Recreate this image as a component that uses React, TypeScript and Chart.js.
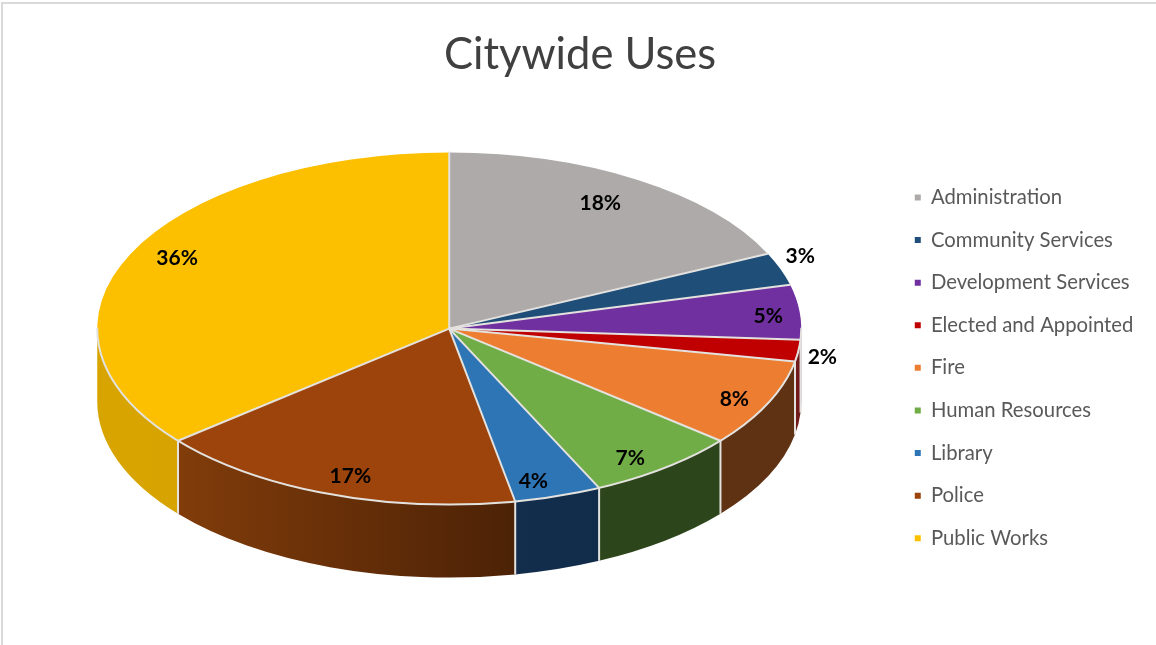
import React, { useEffect, useRef } from "react";
import { Chart, registerables } from "chart.js";

Chart.register(...registerables);

const TITLE = "Citywide Uses";
const categories = [
  "Administration",
  "Community Services",
  "Development Services",
  "Elected and Appointed",
  "Fire",
  "Human Resources",
  "Library",
  "Police",
  "Public Works",
];
const shares = [18, 3, 5, 2, 8, 7, 4, 17, 36];
const topColors = ["#aeaaaa", "#1f4e79", "#7030a0", "#c00000", "#ed7d31", "#70ad47", "#2e75b6", "#9c440c", "#fcc000"];
const wallLeftColors = ["#6f6c6c", "#122e4c", "#3f1b5c", "#701a1a", "#5f3214", "#2d451b", "#132e4c", "#813c0a", "#d8a500"];
const wallRightColors = ["#6f6c6c", "#122e4c", "#3f1b5c", "#701a1a", "#5f3214", "#2d451b", "#112c4a", "#4c2206", "#d6a300"];
// Label anchors as fractions of the disc's horizontal and vertical radii.
const labelAnchorsX = [0.429, 0.997, 0.906, 1.06, 0.81, 0.514, 0.239, -0.281, -0.773];
const labelAnchorsY = [-0.713, -0.414, -0.069, 0.161, 0.402, 0.736, 0.868, 0.839, -0.402];

const DISC_RX = 352;
const DISC_RY = 176;
const DISC_DEPTH = 73;
const SEAM = "#e4e2de";
const TITLE_SHIFT = 5.3;
const LEGEND_DROP = 165;

// Tilts the pie into a flattened disc and extrudes a side wall from its arc elements.
const tiltedDisc = {
  id: "tiltedDisc",
  afterLayout(chart: any) {
    chart.titleBlock.left += TITLE_SHIFT;
    chart.titleBlock.right += TITLE_SHIFT;
    chart.legend.top += LEGEND_DROP;
    chart.legend.bottom += LEGEND_DROP;
  },
  beforeDatasetsDraw(chart: any) {
    const ctx = chart.ctx;
    const arcs = chart.getDatasetMeta(0).data;
    const { x: cx, y: cy, outerRadius } = arcs[0];

    arcs.forEach((arc: any, i: number) => {
      const a = Math.max(arc.startAngle, 0);
      const b = Math.min(arc.endAngle, Math.PI);
      if (b <= a) return;
      const xa = cx + DISC_RX * Math.cos(a);
      const xb = cx + DISC_RX * Math.cos(b);
      const wall = ctx.createLinearGradient(xb, 0, xa, 0);
      wall.addColorStop(0, wallLeftColors[i]);
      wall.addColorStop(1, wallRightColors[i]);
      ctx.beginPath();
      ctx.ellipse(cx, cy, DISC_RX, DISC_RY, 0, a, b);
      ctx.ellipse(cx, cy + DISC_DEPTH, DISC_RX, DISC_RY, 0, b, a, true);
      ctx.closePath();
      ctx.fillStyle = wall;
      ctx.fill();
    });

    ctx.strokeStyle = SEAM;
    ctx.lineWidth = 2;
    arcs.forEach((arc: any) => {
      const t = arc.endAngle;
      const norm = ((t % (2 * Math.PI)) + 2 * Math.PI) % (2 * Math.PI);
      if (norm >= Math.PI) return;
      const x = cx + DISC_RX * Math.cos(norm);
      const y = cy + DISC_RY * Math.sin(norm);
      ctx.beginPath();
      ctx.moveTo(x, y);
      ctx.lineTo(x, y + DISC_DEPTH);
      ctx.stroke();
    });

    ctx.save();
    ctx.translate(cx, cy);
    ctx.scale(DISC_RX / outerRadius, DISC_RY / outerRadius);
    ctx.translate(-cx, -cy);
  },
  afterDatasetsDraw(chart: any) {
    const ctx = chart.ctx;
    ctx.restore();
    const arcs = chart.getDatasetMeta(0).data;
    const { x: cx, y: cy } = arcs[0];

    ctx.strokeStyle = SEAM;
    ctx.lineWidth = 2;
    ctx.lineCap = "round";
    arcs.forEach((arc: any) => {
      const ex = cx + DISC_RX * Math.cos(arc.startAngle);
      const ey = cy + DISC_RY * Math.sin(arc.startAngle);
      ctx.beginPath();
      ctx.moveTo(cx, cy);
      ctx.lineTo(ex, ey);
      ctx.stroke();
    });
    ctx.beginPath();
    ctx.ellipse(cx, cy, DISC_RX, DISC_RY, 0, 0, Math.PI);
    ctx.stroke();

    ctx.fillStyle = "#000000";
    ctx.font = "bold 21px Lato";
    ctx.textAlign = "center";
    ctx.textBaseline = "middle";
    shares.forEach((share, i) => {
      ctx.fillText(`${share}%`, cx + labelAnchorsX[i] * DISC_RX, cy + labelAnchorsY[i] * DISC_RY);
    });
  },
};

export default function App() {
  const canvasRef = useRef<HTMLCanvasElement>(null);

  useEffect(() => {
    const chart = new Chart(canvasRef.current as HTMLCanvasElement, {
      type: "pie",
      plugins: [tiltedDisc],
      data: {
        labels: categories,
        datasets: [
          {
            data: shares,
            backgroundColor: topColors,
            borderWidth: 0,
            clip: false,
          } as any,
        ],
      },
      options: {
        responsive: false,
        animation: false,
        events: [],
        layout: { padding: { left: 6, right: 12.6, bottom: 72 } },
        plugins: {
          tooltip: { enabled: false },
          title: {
            display: true,
            text: TITLE,
            color: "#404040",
            font: { family: "Lato", size: 43.5, weight: "normal" },
            padding: { top: 29, bottom: 3 },
          },
          legend: {
            position: "right",
            align: "start",
            labels: {
              color: "#595959",
              font: { family: "Lato", size: 20.3 },
              boxWidth: 6,
              boxHeight: 6,
              padding: 22.3,
            },
          },
        },
      },
    } as any);
    return () => chart.destroy();
  }, []);

  return (
    <div style={{ position: "fixed", left: 0, top: 0, width: 1156, height: 645, background: "#ffffff", overflow: "hidden" }}>
      <canvas ref={canvasRef} width={1156} height={645} style={{ display: "block" }} />
      <div style={{ position: "absolute", left: 1, top: 2, right: 0, height: 2, background: "#d9d9d9" }} />
      <div style={{ position: "absolute", left: 1, top: 2, bottom: 0, width: 2, background: "#d9d9d9" }} />
    </div>
  );
}
